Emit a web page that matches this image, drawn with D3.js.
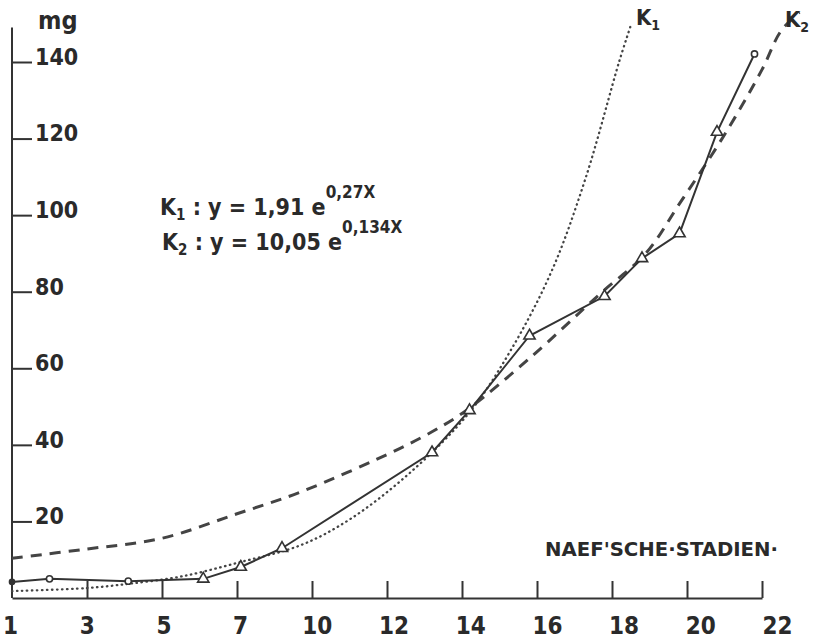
<!DOCTYPE html>
<html lang="de">
<head>
<meta charset="UTF-8">
<script src="https://d3js.org/d3.v7.min.js"></script>
<title>Naef'sche Stadien</title>
<style>
body { margin: 0; background: #ffffff; }
svg text { font-family: "DejaVu Sans Condensed", "DejaVu Sans", sans-serif; font-weight: bold; fill: #2a2a2a; }
.axis path, .axis line { stroke: #333; stroke-width: 2px; }
</style>
</head>
<body>
<div id="chart"></div>
<script>
// tick positions on the x axis (drawing units) and the labels written under them
const xTickPos = [1, 3, 5, 7, 9, 11, 13, 15, 17, 19, 21];
const xTickLabels = ["1", "3", "5", "7", "10", "12", "14", "16", "18", "20", "22"];
const yTicks = [20, 40, 60, 80, 100, 120, 140];
const yAxisTop = 149;

// measured values (mg) per stage
const stageX = [1, 2, 4.1, 6.1, 7.1, 8.2, 12.2, 13.2, 14.8, 16.8, 17.8, 18.8, 19.8, 20.8];
const stageY = [4.2, 5.0, 4.4, 5.0, 8.1, 13.0, 38.0, 49.0, 68.5, 78.8, 88.7, 95.2, 121.7, 142.1];
const stageMark = ["dot", "circle", "circle", "tri", "tri", "tri", "tri", "tri", "tri", "tri", "tri", "tri", "tri", "circle"];

// curve K1 (dotted)
const k1X = [1, 3, 4.1, 5.5, 7.1, 8.7, 10, 11.6, 13.2, 14.3, 15.4, 16.3, 17.2, 17.5];
const k1Y = [1.8, 2.6, 3.7, 5.6, 9.4, 13.8, 20.5, 32.6, 48.5, 64.7, 85.6, 109.8, 140.4, 149.5];

// curve K2 (dashed)
const k2X = [1, 3, 5, 7, 8.7, 11.35, 12.5, 13.2, 14.8, 16.7, 17.9, 18.8, 20, 21, 21.5, 22];
const k2Y = [10.4, 12.8, 15.6, 22.0, 27.7, 39.1, 45.1, 49.6, 62.6, 79.6, 90, 103, 121, 138, 148, 153];

const width = 816, height = 640;

const svg = d3.select("#chart").append("svg")
  .attr("width", width)
  .attr("height", height);

const x = d3.scaleLinear().domain([1, 21]).range([12, 762]);
// hand-lettered numbers drift a bit to the right of their ticks
const xLabel = d3.scaleLinear().domain([1, 21]).range([10, 777]);
const y = d3.scaleLinear().domain([0, 140]).range([598, 62]);

// x axis, ticks pointing up
const xAxis = svg.append("g")
  .attr("class", "axis")
  .attr("transform", `translate(0,${y(0)})`)
  .call(d3.axisBottom(x)
    .tickValues(xTickPos)
    .tickFormat((d, i) => xTickLabels[i])
    .tickSizeInner(-17)
    .tickSizeOuter(0)
    .tickPadding(19));
xAxis.selectAll("text")
  .style("font-size", "24px")
  .attr("fill", "#2a2a2a")
  .attr("x", d => xLabel(d) - x(d));
xAxis.select(".tick").select("line").remove();

// y axis, ticks pointing right
const yAxis = svg.append("g")
  .attr("class", "axis")
  .attr("transform", `translate(${x(1)},0)`)
  .call(d3.axisRight(y)
    .tickValues(yTicks)
    .tickSizeInner(20)
    .tickSizeOuter(0)
    .tickPadding(3));
yAxis.select(".domain").remove();
yAxis.selectAll("text")
  .style("font-size", "23px")
  .attr("fill", "#2a2a2a")
  .attr("dy", "0.1em");

svg.append("line")
  .attr("x1", x(1)).attr("x2", x(1))
  .attr("y1", y(0)).attr("y2", y(yAxisTop))
  .attr("stroke", "#333").attr("stroke-width", 2);

svg.append("text")
  .attr("x", 38).attr("y", 29)
  .style("font-size", "25px")
  .text("mg");

// curves
const k1 = k1X.map((d, i) => [d, k1Y[i]]);
const k2 = k2X.map((d, i) => [d, k2Y[i]]);
const curveLine = d3.line().x(d => x(d[0])).y(d => y(d[1])).curve(d3.curveCatmullRom);

svg.append("path")
  .datum(k1)
  .attr("d", curveLine)
  .attr("fill", "none")
  .attr("stroke", "#444")
  .attr("stroke-width", 2.3)
  .attr("stroke-linecap", "round")
  .attr("stroke-dasharray", "0.5,4.5");

svg.append("path")
  .datum(k2)
  .attr("d", curveLine)
  .attr("fill", "none")
  .attr("stroke", "#444")
  .attr("stroke-width", 3)
  .attr("stroke-dasharray", "11,8");

// measured line
const pts = stageX.map((d, i) => ({x: d, y: stageY[i], m: stageMark[i]}));
svg.append("path")
  .datum(pts)
  .attr("d", d3.line().x(d => x(d.x)).y(d => y(d.y)))
  .attr("fill", "none")
  .attr("stroke", "#333")
  .attr("stroke-width", 2);

svg.selectAll(".mark")
  .data(pts)
  .enter()
  .append("path")
  .attr("class", "mark")
  .attr("transform", d => `translate(${x(d.x)},${y(d.y)})`)
  .attr("d", d => d.m === "tri"
    ? d3.symbol(d3.symbolTriangle, 55)()
    : d3.symbol(d3.symbolCircle, d.m === "dot" ? 20 : 30)())
  .attr("fill", d => d.m === "dot" ? "#333" : "#fff")
  .attr("stroke", "#333")
  .attr("stroke-width", 1.6);

// curve names
function kLabel(px, py, sub) {
  const t = svg.append("text").attr("x", px).attr("y", py).style("font-size", "22px");
  t.append("tspan").text("K");
  t.append("tspan").attr("dy", 5).style("font-size", "14px").text(sub);
}
kLabel(636, 25, "1");
kLabel(785, 27, "2");

// formulas
function formula(px, py, sub, main, sup) {
  const t = svg.append("text").attr("x", px).attr("y", py).style("font-size", "23px");
  t.append("tspan").text("K");
  t.append("tspan").attr("dy", 5).style("font-size", "15px").text(sub);
  t.append("tspan").attr("dy", -5).text(main);
  t.append("tspan").attr("dy", -17).style("font-size", "17px").text(sup);
}
formula(160, 215, "1", " : y = 1,91 e", "0,27X");
formula(162, 250, "2", " : y = 10,05 e", "0,134X");

svg.append("text")
  .attr("x", 545).attr("y", 556)
  .attr("textLength", 233)
  .attr("lengthAdjust", "spacingAndGlyphs")
  .style("font-size", "19px")
  .text("NAEF'SCHE·STADIEN·");
</script>
</body>
</html>
